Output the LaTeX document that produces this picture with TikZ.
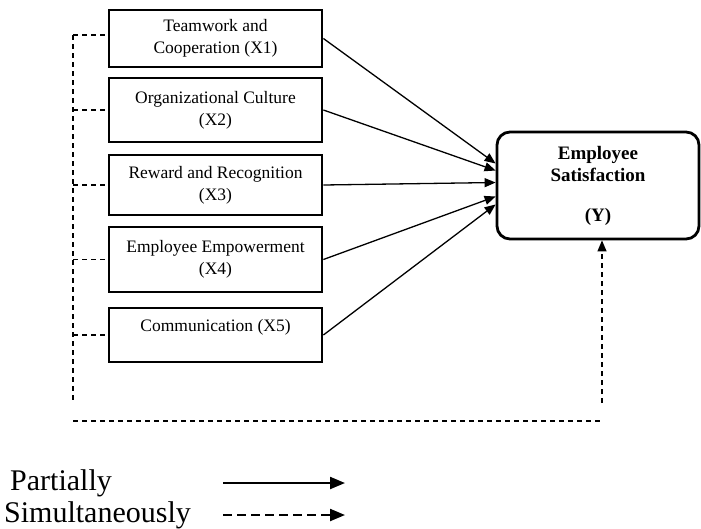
\documentclass[tikz,border=0pt]{standalone}
\usepackage{fontspec}
\setmainfont{Liberation Serif}
\usepackage{tikz}
\usetikzlibrary{arrows.meta}
\tikzset{
	xb/.style={draw, line width=2.8pt, minimum width=213pt, align=center, inner sep=0pt, font=\fontsize{17.5}{22}\selectfont},
	yb/.style={draw, line width=2.8pt, rounded corners=13pt, minimum width=202pt, minimum height=107pt, align=center, font=\fontsize{19}{22}\selectfont\bfseries},
	part/.style={line width=1.3pt, -{Triangle[length=11pt,width=9pt]}},
	simu/.style={line width=1.3pt, dash pattern=on 5pt off 4pt},
	simuto/.style={simu, -{Triangle[length=11pt,width=9pt]}},
	lg/.style={anchor=west, inner sep=0pt, font=\fontsize{30}{30}\selectfont},
}

\begin{document}
\begin{tikzpicture}[x=1pt, y=-1pt]
	\useasboundingbox (0,0) rectangle (701,528);

	\node [xb, minimum height=57pt] (x1) at (215.5,38.5) {Teamwork and\\Cooperation (X1)};
	\node [xb, minimum height=64pt] (x2) at (215.5,110) {Organizational Culture\\(X2)};
	\node [xb, minimum height=60pt] (x3) at (215.5,185) {Reward and Recognition\\(X3)};
	\node [xb, minimum height=65pt] (x4) at (215.5,259.5) {Employee Empowerment\\(X4)};
	\node [xb, minimum height=54pt] (x5) at (215.5,335) {Communication (X5)\\[-10pt]\strut};

	\node [yb] (ys) at (598,185.5) {Employee\\Satisfaction\\[18pt](Y)};

	\draw [part] (x1.east) -- ([yshift=22pt]ys.west);
	\draw [part] (x2.east) -- ([yshift=15pt]ys.west);
	\draw [part] (x3.east) -- ([yshift=3pt]ys.west);
	\draw [part] (x4.east) -- ([yshift=-11pt]ys.west);
	\draw [part] (x5.east) -- ([yshift=-19pt]ys.west);

	\coordinate (st) at (73,35);
	\coordinate (sb) at (73,403);
	\coordinate (bl) at (73,421);
	\coordinate (br) at (600,421);
	\coordinate (up) at (602,403);

	\draw [simu] (st) -- (sb);
	\draw [simu] (st) -- (x1.west |- st);
	\draw [simu] (x2.west -| st) -- (x2.west);
	\draw [simu] (x3.west -| st) -- (x3.west);
	\draw [simu] (x4.west -| st) -- (x4.west);
	\draw [simu] (x5.west -| st) -- (x5.west);
	\draw [simu] (bl) -- (br);
	\draw [simuto] (up) -- (ys.south -| up);

	\node [lg] (lp) at (10,483) {Partially};
	\node [lg] (ls) at (4,515) {Simultaneously};

	\coordinate (pa) at (223,483);
	\coordinate (pb) at (345,483);
	\coordinate (sa) at (223,515);
	\coordinate (sb2) at (345,515);

	\draw [line width=2.2pt, -{Triangle[length=15pt,width=12pt]}] (pa) -- (pb);
	\draw [line width=2.2pt, dash pattern=on 9pt off 5pt, -{Triangle[length=15pt,width=12pt]}] (sa) -- (sb2);
\end{tikzpicture}
\end{document}
